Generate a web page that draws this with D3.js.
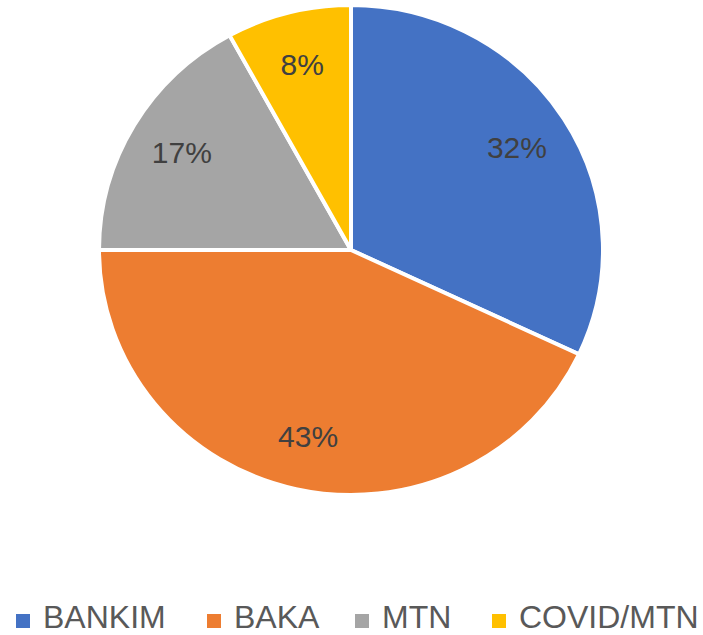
<!DOCTYPE html>
<html>
<head>
<meta charset="utf-8">
<script src="https://cdn.jsdelivr.net/npm/d3@7"></script>
<style>
  html, body { margin: 0; padding: 0; background: #ffffff; }
  svg { display: block; }
</style>
</head>
<body>
<svg id="chart" width="703" height="635"></svg>
<script>
const categories = ["BANKIM", "BAKA", "MTN", "COVID/MTN"];
const values = [32, 43, 17, 8];
const labels = ["32%", "43%", "17%", "8%"];
const colors = ["#4472C4", "#ED7D31", "#A5A5A5", "#FFC000"];

const W = 703, H = 635;
const cx = 351, cy = 250, R = 252, yScale = 0.972;
const svg = d3.select("#chart");

const pie = d3.pie().sort(null).value(d => d)(values);
const arc = d3.arc().innerRadius(0).outerRadius(R);
const labelArc = d3.arc().innerRadius(R * 0.78).outerRadius(R * 0.78);

const g = svg.append("g").attr("transform", `translate(${cx},${cy}) scale(1,${yScale})`);
g.selectAll("path").data(pie).join("path")
  .attr("d", arc)
  .attr("fill", (d, i) => colors[i])
  .attr("stroke", "#ffffff")
  .attr("stroke-width", 4)
  .attr("stroke-linejoin", "round");

const lg = svg.append("g").attr("transform", `translate(${cx},${cy})`);
lg.selectAll("text").data(pie).join("text")
  .attr("x", d => labelArc.centroid(d)[0])
  .attr("y", d => labelArc.centroid(d)[1] * yScale)
  .attr("text-anchor", "middle")
  .attr("dominant-baseline", "central")
  .attr("font-family", "'Liberation Sans', Arial, sans-serif")
  .attr("font-size", 30)
  .attr("fill", "#404040")
  .text((d, i) => labels[i]);

// Legend
const legX = d3.scaleOrdinal().domain(categories).range([16, 207, 355, 492]);
const leg = svg.append("g");
const items = leg.selectAll("g").data(categories).join("g")
  .attr("transform", d => `translate(${legX(d)},0)`);
items.append("rect")
  .attr("x", 0).attr("y", 614).attr("width", 14).attr("height", 14)
  .attr("fill", (d, i) => colors[i]);
items.append("text")
  .attr("x", 27).attr("y", 628)
  .attr("font-family", "'Liberation Sans', Arial, sans-serif")
  .attr("font-size", 32)
  .attr("fill", "#595959")
  .text(d => d);
</script>
</body>
</html>
